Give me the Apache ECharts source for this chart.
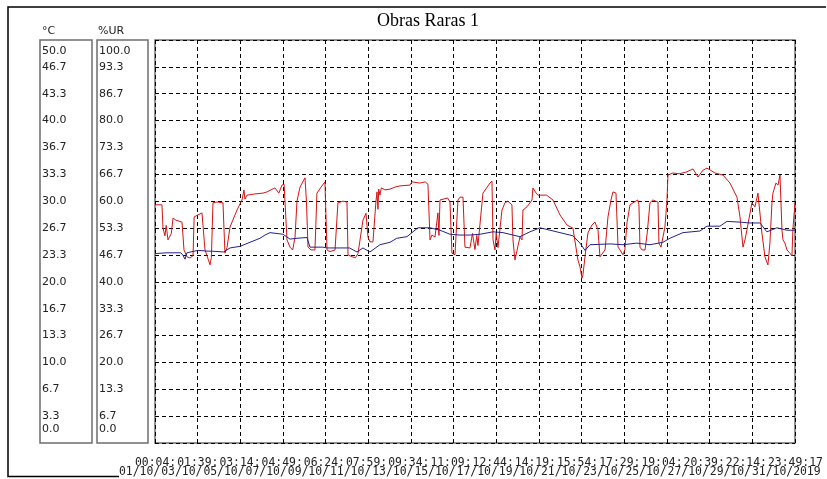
<!DOCTYPE html>
<html>
<head>
<meta charset="utf-8">
<script src="https://cdn.jsdelivr.net/npm/echarts@6/dist/echarts.min.js"></script>
<style>
html, body { margin: 0; padding: 0; background: #fff; }
#chart { width: 827px; height: 479px; }
</style>
</head>
<body>
<div id="chart"></div>
<script>
// x axis in hours from 01/10/2019 00:04:17
const timeLabels = ['00:04:17', '01:39:17', '03:14:17', '04:49:17', '06:24:17', '07:59:17', '09:34:17', '11:09:17',
  '12:44:17', '14:19:17', '15:54:17', '17:29:17', '19:04:17', '20:39:17', '22:14:17', '23:49:17']
const dateLabels = ['01/10/2019', '03/10/2019', '05/10/2019', '07/10/2019', '09/10/2019', '11/10/2019', '13/10/2019', '15/10/2019',
  '17/10/2019', '19/10/2019', '21/10/2019', '23/10/2019', '25/10/2019', '27/10/2019', '29/10/2019', '31/10/2019']
const tempTicks = ['0.0', '3.3', '6.7', '10.0', '13.3', '16.7', '20.0', '23.3', '26.7', '30.0', '33.3', '36.7', '40.0', '43.3', '46.7', '50.0']
const humTicks = ['0.0', '6.7', '13.3', '20.0', '26.7', '33.3', '40.0', '46.7', '53.3', '60.0', '66.7', '73.3', '80.0', '86.7', '93.3', '100.0']

// temperatura (°C)
const tempData = [[0,23.5],[14,23.6],[30,23.6],[32.5,23.3],[34.9,22.8],[37,23.6],[50,23.9],[62,23.8],[66,23.8],[80,23.7],
  [87.2,24.2],[98.8,24.4],[110.4,24.9],[122,25.4],[127.8,25.8],[133.6,26.1],[148.7,25.9],[156.9,25.3],[165,25.4],[176.6,25.5],
  [180.1,24.3],[195,24.3],[200,24.2],[226,24.2],[234.7,23.7],[241.7,24.2],[249.8,23.7],[261.4,24.6],[273.1,24.9],[281,25.4],
  [292.8,25.6],[299.8,26.2],[305.6,26.7],[319.6,26.7],[331.2,26.4],[342.8,25.9],[354.4,25.8],[366,25.8],[377.7,25.9],[392.8,26.2],
  [404.4,26.1],[416,25.8],[424.1,25.6],[435.7,26.2],[447.4,26.7],[459,26.4],[470.6,26.1],[482.2,25.8],[485.7,25.7],[493.9,24.8],
  [499.7,23.9],[505.5,24.6],[528.7,24.7],[543.8,24.6],[560.1,24.8],[575.2,24.6],[590.3,24.9],[598.4,25.4],[613.5,26.1],[633.3,26.3],
  [641.4,26.9],[656.5,26.9],[664.7,27.5],[679.8,27.4],[691.4,27.3],[703,27.3],[711.1,26.2],[722.8,26.7],[734.4,26.4],[743.7,26.4]]

// umidade relativa (%UR)
const humData = [[0,59.1],[8.1,59.1],[9.3,53.3],[11.6,51.4],[13,54.0],[15.1,50.4],[17.4,50.4],[19,52.0],[20.9,55.8],[24.4,55.3],
  [31.4,54.8],[33.7,47.9],[37.2,46.2],[40.7,45.9],[44.2,46.5],[45.5,56.1],[50,56.6],[54.6,57.1],[58.1,47.9],[62,45.5],
  [63.9,44.2],[65.5,46.0],[67.4,59.6],[72,59.8],[79,59.6],[81.3,47.1],[83.7,48.5],[87.2,53.6],[95.3,57.8],[101.1,60.3],
  [103.4,62.8],[104.5,60.5],[106.9,61.5],[116.2,61.8],[125.5,62.0],[130.1,62.3],[139.4,63.3],[143.9,62.0],[147.6,64.0],[150,64.2],
  [153.4,50.4],[156.9,48.6],[160,47.9],[162.7,51.0],[165,60.0],[168.5,63.5],[174.3,65.8],[176,60.0],[177.8,48.6],[181.3,47.9],
  [185.9,47.9],[188.2,62.0],[193,63.5],[197.5,64.8],[199.9,47.9],[203.4,47.5],[209.2,47.9],[212.6,59.6],[218.5,60.0],[223.1,59.8],
  [224.3,46.7],[228.9,46.2],[233,46.0],[235.9,47.0],[241.7,55.3],[245.2,57.0],[247.5,51.1],[249.8,49.9],[253.3,49.9],[256.8,60.0],
  [258,62.3],[259.1,58.0],[260,63.0],[261.4,61.5],[263,63.3],[267.3,62.8],[273.1,63.0],[278.9,63.5],[284.7,63.8],[296.3,64.0],
  [298.6,64.8],[307.9,64.5],[314,64.8],[317.2,64.2],[319.6,50.4],[321.9,51.6],[325.4,51.1],[328.8,57.1],[330,51.5],[331.2,60.3],
  [340,60.8],[342.8,59.8],[345.1,47.1],[348.6,46.7],[352.1,60.3],[354.4,61.0],[357.9,61.0],[360.2,48.6],[366,48.4],[369,52.0],
  [371.8,48.0],[374,51.5],[375.3,49.0],[381.1,62.0],[389.3,64.5],[391.6,65.0],[392.8,50.4],[395.1,47.9],[396.5,52.1],[398.6,48.5],
  [403.2,57.8],[406.7,59.6],[410,60.0],[414.8,59.1],[416,50.4],[418.3,45.4],[420.6,45.4],[424.1,51.1],[426.5,50.4],[427.6,57.8],
  [432.3,58.6],[438.1,60.3],[439.2,63.3],[442,62.3],[445,61.5],[455,61.5],[462.5,60.3],[470.6,56.6],[478.7,54.1],[485.7,53.3],
  [488,52.9],[491.5,45.4],[493.9,43.7],[496.2,40.9],[497.3,41.7],[499.7,46.2],[503.1,52.1],[507.8,54.1],[511.3,54.8],[513.6,54.8],
  [514.8,52.9],[517.1,46.2],[519.4,45.9],[523,47.9],[526.4,56.1],[529.9,60.3],[532.2,62.3],[535.7,62.0],[538.1,48.6],[540.4,47.9],
  [543.8,46.7],[546,47.9],[548.5,54.6],[552,59.1],[555.5,59.6],[561,60.3],[562.4,59.1],[563.6,48.6],[566,47.9],[569.5,47.9],
  [572,52.1],[575.2,59.6],[578.5,60.3],[584.5,59.8],[585.6,49.6],[588,48.6],[590.3,48.6],[592.6,53.6],[595,60.3],[596.1,66.5],
  [602,67.0],[609,66.8],[617,67.2],[625.2,68.0],[631,66.0],[636.8,67.7],[641.4,68.2],[647,67.5],[650.7,67.0],[660,66.5],
  [668.2,64.5],[676.3,61.0],[679.8,56.1],[683.3,48.6],[685.6,50.4],[687.9,52.9],[693.7,59.6],[697.2,58.6],[700.7,62.0],[705.3,52.1],
  [708.8,46.2],[712.3,44.2],[714.6,49.6],[717,59.6],[718.1,62.0],[721.6,64.5],[724,64.0],[726.3,66.5],[728.6,52.9],[729.8,50.4],
  [732.1,49.6],[734.4,47.9],[737.9,47.1],[740.2,46.4],[741.3,52.9],[743.7,59.6]]

const xStep = 49.5833333
const xMax = xStep * 15
const last = timeLabels.length - 1

const boxLabel = (ticks) => (v, i) => {
  if (i === 0) return '{bot|' + ticks[i] + '}'
  if (i === ticks.length - 1) return '{top|' + ticks[i] + '}'
  return ticks[i]
}
const labelStyle = {
  inside: true, margin: 2, align: 'left', color: '#222', fontSize: 11, fontFamily: 'DejaVu Sans',
  showMinLabel: true, showMaxLabel: true,
  rich: {
    top: {padding: [22, 0, 0, 0], fontSize: 11, fontFamily: 'DejaVu Sans', color: '#222'},
    bot: {padding: [0, 0, 28, 0], fontSize: 11, fontFamily: 'DejaVu Sans', color: '#222'}
  }
}
const boxBorder = {show: true, borderColor: '#6e6e6e', borderWidth: 1.5, backgroundColor: '#fff'}

// the logger software prints each label over the tail of the previous one,
// so only the first 6 characters survive except on the last tick
const overLabel = (list) => (v, i) => i < last ? list[i].slice(0, 6) : list[i]
const tickFont = {fontFamily: 'DejaVu Sans Mono', fontSize: 11.4, lineHeight: 12, color: '#222', align: 'left'}
const labelAxis = (gridIndex, list, margin) => ({
  gridIndex, type: 'value', min: 0, max: xMax, interval: xStep,
  axisLine: {show: false}, axisTick: {show: false}, splitLine: {show: false},
  axisLabel: Object.assign({margin, hideOverlap: false, formatter: overLabel(list)}, tickFont)
})

const chart = echarts.init(document.getElementById('chart'))
chart.setOption({
  animation: false,
  backgroundColor: '#fff',
  title: {
    text: 'Obras Raras 1',
    left: 372, top: 7,
    textStyle: {fontFamily: 'Liberation Serif', fontSize: 18, fontWeight: 'normal', color: '#000'}
  },
  graphic: [{
    type: 'polyline', z: -10,
    shape: {points: [[826, 7], [8, 7], [8, 476.5], [119, 476.5]]},
    style: {stroke: '#000', lineWidth: 1.5, fill: null}
  }],
  grid: [
    Object.assign({left: 40, top: 40, width: 52, height: 403, outerBoundsMode: 'none'}, boxBorder),
    Object.assign({left: 97, top: 40, width: 51, height: 403, outerBoundsMode: 'none'}, boxBorder),
    Object.assign({left: 155, top: 40, width: 640, height: 403, outerBoundsMode: 'none'}, boxBorder),
    // label layers for the two rows of tick text
    {left: 135, top: 40, width: 633, height: 403, outerBoundsMode: 'none'},
    {left: 119, top: 40, width: 633, height: 403, outerBoundsMode: 'none'}
  ],
  xAxis: [
    {gridIndex: 0, type: 'value', show: false},
    {gridIndex: 1, type: 'value', show: false},
    {
      gridIndex: 2, type: 'value', min: 0, max: xMax, interval: xStep,
      axisLine: {show: false}, axisTick: {show: false}, axisLabel: {show: false},
      splitLine: {show: true, lineStyle: {color: '#000', width: 1, type: [4, 3]}}
    },
    labelAxis(3, timeLabels, 14),
    labelAxis(4, dateLabels, 23)
  ],
  yAxis: [
    {
      gridIndex: 0, type: 'value', min: 0, max: 50, interval: 50 / 15,
      name: '°C', nameLocation: 'end', nameGap: 3,
      nameTextStyle: {align: 'left', color: '#222', fontSize: 11, fontFamily: 'DejaVu Sans', padding: [0, 0, 0, 2]},
      axisLine: {show: false}, axisTick: {show: false}, splitLine: {show: false},
      axisLabel: Object.assign({formatter: boxLabel(tempTicks)}, labelStyle)
    },
    {
      gridIndex: 1, type: 'value', min: 0, max: 100, interval: 100 / 15,
      name: '%UR', nameLocation: 'end', nameGap: 3,
      nameTextStyle: {align: 'left', color: '#222', fontSize: 11, fontFamily: 'DejaVu Sans', padding: [0, 0, 0, 1]},
      axisLine: {show: false}, axisTick: {show: false}, splitLine: {show: false},
      axisLabel: Object.assign({formatter: boxLabel(humTicks)}, labelStyle)
    },
    {
      gridIndex: 2, type: 'value', min: 0, max: 50, interval: 50 / 15,
      axisLine: {show: false}, axisTick: {show: false}, axisLabel: {show: false},
      splitLine: {show: true, lineStyle: {color: '#000', width: 1, type: [4, 3]}}
    },
    {gridIndex: 2, type: 'value', min: 0, max: 100, show: false, splitLine: {show: false}},
    {gridIndex: 3, type: 'value', show: false},
    {gridIndex: 4, type: 'value', show: false}
  ],
  series: [
    {
      name: '%UR', type: 'line', xAxisIndex: 2, yAxisIndex: 3, data: humData,
      showSymbol: false, lineStyle: {color: '#d41414', width: 1}, z: 3
    },
    {
      name: '°C', type: 'line', xAxisIndex: 2, yAxisIndex: 2, data: tempData,
      showSymbol: false, lineStyle: {color: '#22228c', width: 1}, z: 4
    }
  ]
})
</script>
</body>
</html>
